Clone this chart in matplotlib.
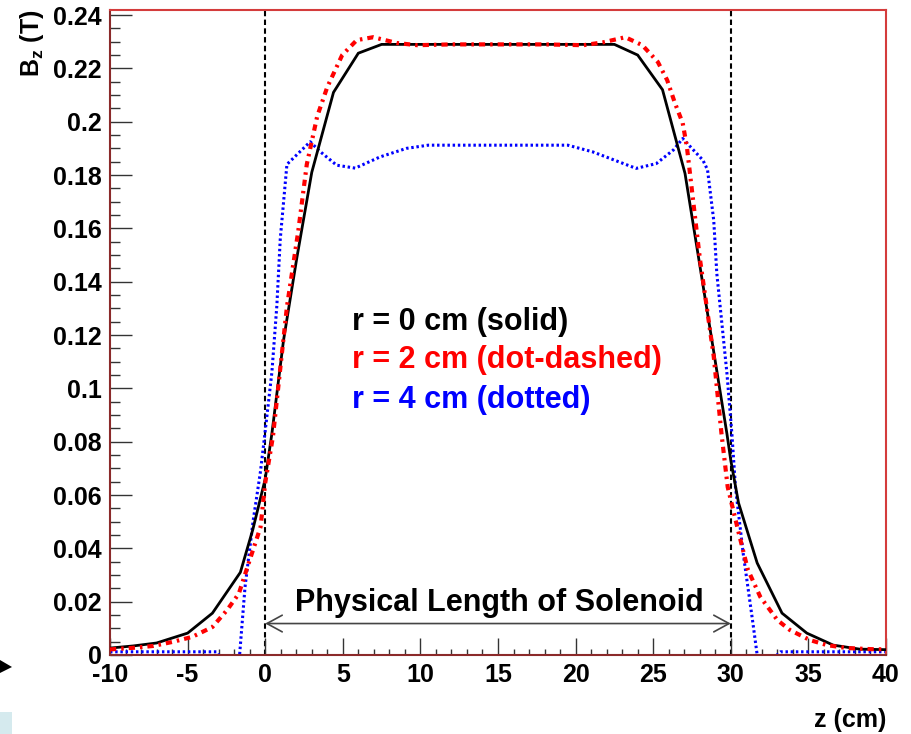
import matplotlib
matplotlib.use("Agg")
import matplotlib.pyplot as plt
from matplotlib.ticker import MultipleLocator, FuncFormatter
from matplotlib.patches import Polygon, Rectangle

plt.rcParams['font.family'] = ['Liberation Sans', 'DejaVu Sans']
plt.rcParams['font.weight'] = 'bold'
plt.rcParams['mathtext.fontset'] = 'custom'
plt.rcParams['mathtext.rm'] = 'Liberation Sans:bold'
plt.rcParams['mathtext.it'] = 'Liberation Sans:bold'
plt.rcParams['mathtext.bf'] = 'Liberation Sans:bold'
plt.rcParams['mathtext.default'] = 'rm'

# r = 0 cm (solid)
z_r0 = [-10, -8.5, -7.0, -5.0, -3.4, -1.6, -0.8, 0.0, 0.43, 1.18, 2.04, 3.0, 4.4, 6.0, 7.5,
        10.0, 15.0, 20.0, 22.5, 24.0, 25.6, 27.05, 29.75, 30.0, 30.5, 31.7, 33.3, 34.9, 36.6, 38.3, 40.0]
B_r0 = [0.0026, 0.0034, 0.0045, 0.0082, 0.0157, 0.031, 0.047, 0.066, 0.083, 0.118, 0.149, 0.181, 0.211, 0.2257, 0.229,
        0.229, 0.229, 0.229, 0.229, 0.225, 0.212, 0.1806, 0.083, 0.073, 0.057, 0.0345, 0.0157, 0.0082, 0.0037, 0.0022, 0.002]

# r = 2 cm (dot-dashed)
z_r2 = [-10, -8.5, -7.2, -5.9, -4.7, -3.4, -2.45, -1.7, -1.2, -0.3, 0.0, 0.5, 1.4, 2.13, 2.68, 3.35, 4.0, 4.96,
        5.9, 6.96, 8.5, 9.8, 12.0, 15.0, 18.0, 20.5, 21.8, 23.2, 24.3, 25.3, 25.9, 26.4, 26.9, 27.17, 28.0, 28.9,
        29.4, 29.8, 30.5, 31.1, 31.9, 33.0, 33.8, 35.1, 36.2, 37.5, 39.0, 40.0]
B_r2 = [0.0021, 0.0027, 0.0034, 0.005, 0.0068, 0.0105, 0.0169, 0.023, 0.032, 0.048, 0.0645, 0.082, 0.1306, 0.159,
        0.184, 0.202, 0.213, 0.225, 0.2306, 0.2317, 0.2295, 0.2287, 0.229, 0.229, 0.229, 0.2287, 0.2298, 0.2317,
        0.2287, 0.2224, 0.2156, 0.207, 0.1995, 0.1906, 0.149, 0.112, 0.083, 0.063, 0.046, 0.032, 0.0218, 0.0131,
        0.0094, 0.0056, 0.0037, 0.0026, 0.0022, 0.0021]

# r = 4 cm (dotted)
z_r4 = [-10, -3.1, -2.9, -1.8, -1.65, -1.3, -0.77, -0.3, 0.0, 0.43, 0.75, 0.97, 1.4, 2.9, 3.5, 4.6, 5.8, 7.4, 9.1,
        10.5, 15.0, 19.5, 21.1, 23.9, 25.2, 26.3, 26.9, 28.2, 28.5, 28.9, 29.1, 29.75, 30.07, 30.3, 30.8, 31.4,
        31.7, 31.8, 32.8, 33.2, 40.0]
B_r4 = [0.0012, 0.0012, -0.001, -0.001, 0.0, 0.0255, 0.0506, 0.069, 0.084, 0.106, 0.131, 0.156, 0.184, 0.1925,
        0.189, 0.1837, 0.1826, 0.1868, 0.19, 0.1912, 0.1912, 0.1912, 0.1887, 0.1825, 0.1843, 0.1894, 0.1937, 0.1856,
        0.182, 0.163, 0.143, 0.1057, 0.083, 0.063, 0.038, 0.013, 0.0, -0.001, -0.001, 0.0012, 0.0012]

legend_lines = ["r = 0 cm (solid)", "r = 2 cm (dot-dashed)", "r = 4 cm (dotted)"]
legend_colors = ["black", "#ff0000", "#0000ff"]
solenoid_start, solenoid_end = 0, 30

fig = plt.figure(figsize=(9.12, 7.34), dpi=100)
ax = fig.add_axes([110/912, 1-655/734, 776/912, 645/734])

ax.plot(z_r0, B_r0, color='black', lw=2.0, solid_joinstyle='miter', zorder=3)
ax.plot(z_r2, B_r2, color='#ff0000', lw=3.0, ls=(0, (1.5, 1.2, 0.6, 1.2)), zorder=4)
ax.plot(z_r4, B_r4, color='#0000ff', lw=2.2, ls=(0, (0.8, 0.9)), zorder=2)

for zz in (solenoid_start, solenoid_end):
    ax.axvline(zz, color='black', lw=1.5, ls=(0, (2.6, 1.6)), zorder=1)

ax.annotate('', xy=(solenoid_start, 0.0118), xytext=(solenoid_end, 0.0118),
            arrowprops=dict(arrowstyle='<->,head_length=1.1,head_width=0.6', mutation_scale=10,
                            lw=1.2, color='#444444', shrinkA=0, shrinkB=0))
ax.text(15.1, 0.0195, "Physical Length of Solenoid", ha='center', va='center', fontsize=22,
        fontweight='bold', color='black')

for i, (t, c) in enumerate(zip(legend_lines, legend_colors)):
    ax.text(5.6, [0.1249, 0.1106, 0.0956][i], t, color=c, ha='left', va='center', fontsize=22, fontweight='bold')

ax.set_xlim(-10, 40)
ax.set_ylim(0, 0.2419)
ax.xaxis.set_major_locator(MultipleLocator(5))
ax.xaxis.set_minor_locator(MultipleLocator(1))
ax.yaxis.set_major_locator(MultipleLocator(0.02))
ax.yaxis.set_minor_locator(MultipleLocator(0.005))

def yfmt(v, pos):
    if abs(v) < 1e-9:
        return "0"
    return f"{v:.2f}".rstrip('0').rstrip('.')
ax.yaxis.set_major_formatter(FuncFormatter(yfmt))
ax.xaxis.set_major_formatter(FuncFormatter(lambda v, p: f"{int(round(v))}"))

ax.tick_params(axis='y', which='major', direction='in', length=16, width=1.0, color='#333333', pad=6,
               labelsize=18)
ax.tick_params(axis='y', which='minor', direction='in', length=7.5, width=1.0, color='#333333')
ax.tick_params(axis='x', which='major', direction='in', length=12, width=1.0, color='#333333', pad=6,
               labelsize=18)
ax.tick_params(axis='x', which='minor', direction='in', length=4.5, width=1.0, color='#333333')
for lab in ax.get_xticklabels() + ax.get_yticklabels():
    lab.set_fontweight('bold')

for side in ('top', 'right'):
    ax.spines[side].set_color('#d43c3c')
    ax.spines[side].set_linewidth(1.5)
for side in ('left', 'bottom'):
    ax.spines[side].set_color('#8b2a2a')
    ax.spines[side].set_linewidth(1.5)

ax.set_ylabel("B$_z$ (T)", fontsize=18, fontweight='bold', loc='top')
ax.yaxis.set_label_coords(-0.082, 1.0)
ax.set_xlabel("z (cm)", fontsize=18, fontweight='bold', loc='right')
ax.xaxis.set_label_coords(1.0, -0.082)

# stray page elements
fig.patches.append(Polygon([[0, 1-660/734], [12/912, 1-667/734], [0, 1-673/734]], closed=True,
                           transform=fig.transFigure, facecolor='black', edgecolor='none'))
fig.patches.append(Rectangle((0, 0), 12/912, 22/734, transform=fig.transFigure,
                             facecolor='#d5eaee', edgecolor='none'))

fig.savefig("out.png", dpi=100)
